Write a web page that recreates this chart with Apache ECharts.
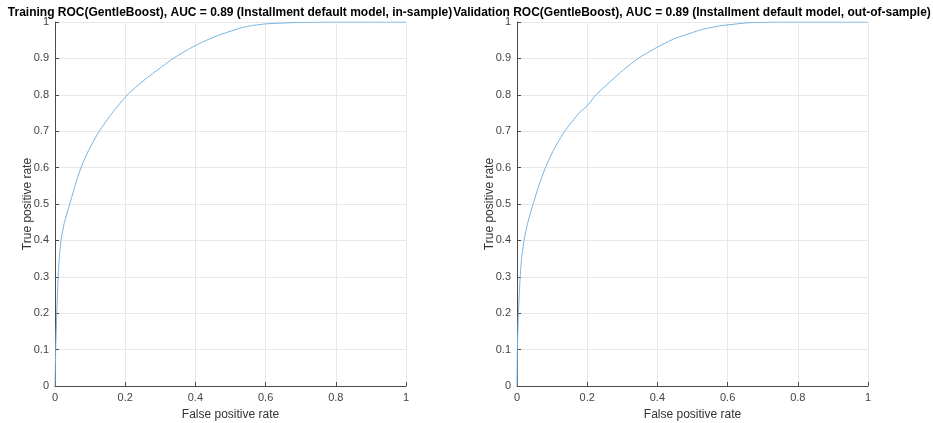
<!DOCTYPE html>
<html>
<head>
    <meta charset="utf-8">
    <title>ROC GentleBoost</title>
    <script src="https://cdn.jsdelivr.net/npm/echarts@6/dist/echarts.min.js"></script>
    <style>
        html, body { margin: 0; padding: 0; background: #fff; }
    </style>
</head>
<body>
<div id="main" style="width: 933px;height:423px;"></div>
<script type="text/javascript">
    // ROC points
    const fprTrain = [0, 0.001, 0.002, 0.005, 0.009, 0.012, 0.017, 0.027, 0.042, 0.057, 0.074, 0.097, 0.126, 0.163, 0.206, 0.255, 0.3, 0.337, 0.38, 0.42, 0.47, 0.527, 0.56, 0.603, 0.7, 0.8, 1];
    const tprTrain = [0, 0.05, 0.1, 0.2, 0.3, 0.35, 0.4, 0.45, 0.5, 0.55, 0.6, 0.65, 0.7, 0.75, 0.8, 0.841, 0.874, 0.9, 0.925, 0.945, 0.965, 0.983, 0.99, 0.995, 0.999, 1, 1];

    const fprVal = [0, 0.0005, 0.001, 0.004, 0.009, 0.013, 0.02, 0.031, 0.046, 0.062, 0.081, 0.105, 0.136, 0.176, 0.202, 0.225, 0.271, 0.3, 0.345, 0.398, 0.45, 0.5, 0.521, 0.575, 0.66, 0.75, 1];
    const tprVal = [0, 0.05, 0.1, 0.2, 0.3, 0.35, 0.4, 0.45, 0.5, 0.55, 0.6, 0.65, 0.7, 0.749, 0.772, 0.8, 0.841, 0.866, 0.9, 0.93, 0.955, 0.971, 0.978, 0.989, 0.998, 1, 1];

    const titles = [
        'Training ROC(GentleBoost), AUC = 0.89 (Installment default model, in-sample)',
        'Validation ROC(GentleBoost), AUC = 0.89 (Installment default model, out-of-sample)'
    ];
    const xLabel = 'False positive rate';
    const yLabel = 'True positive rate';

    const font = '"Liberation Sans", Arial, sans-serif';
    const axisCol = '#4a4a4a';
    const lineCol = '#74b3e2';

    function pairs(xs, ys) {
        return xs.map((x, i) => [x, ys[i]]);
    }

    function xAxis(idx) {
        return {
            type: 'value', gridIndex: idx, min: 0, max: 1, interval: 0.2,
            name: xLabel, nameLocation: 'middle', nameGap: 23,
            nameTextStyle: {fontFamily: font, fontSize: 12, color: '#333'},
            axisLine: {show: true, onZero: false, lineStyle: {color: axisCol, width: 1}},
            axisTick: {show: true, inside: true, length: 4, lineStyle: {color: axisCol}},
            axisLabel: {fontFamily: font, fontSize: 11, color: '#444', margin: 6,
                formatter: v => String(+v.toFixed(1))},
            splitLine: {show: true, lineStyle: {color: '#e8e8e8', width: 1}}
        };
    }

    function yAxis(idx) {
        return {
            type: 'value', gridIndex: idx, min: 0, max: 1, interval: 0.1,
            name: yLabel, nameLocation: 'middle', nameGap: 21, nameMoveOverlap: false,
            nameTextStyle: {fontFamily: font, fontSize: 12, color: '#333'},
            axisLine: {show: true, onZero: false, lineStyle: {color: axisCol, width: 1}},
            axisTick: {show: true, inside: true, length: 4, lineStyle: {color: axisCol}},
            axisLabel: {fontFamily: font, fontSize: 11, color: '#444', margin: 6,
                formatter: v => String(+v.toFixed(1))},
            splitLine: {show: true, lineStyle: {color: '#e8e8e8', width: 1}}
        };
    }

    const myChart = echarts.init(document.getElementById('main'));
    const option = {
        animation: false,
        backgroundColor: '#fff',
        graphic: [
            {type: 'text', x: 230, y: 7, style: {text: titles[0], fontFamily: font, fontSize: 12, fontWeight: 'bold', fill: '#000', align: 'center'}},
            {type: 'text', x: 692, y: 7, style: {text: titles[1], fontFamily: font, fontSize: 12, fontWeight: 'bold', fill: '#000', align: 'center'}}
        ],
        grid: [
            {left: 55, top: 22, width: 351, height: 364, containLabel: false, outerBoundsMode: 'none'},
            {left: 517, top: 22, width: 351, height: 364, containLabel: false, outerBoundsMode: 'none'}
        ],
        xAxis: [xAxis(0), xAxis(1)],
        yAxis: [yAxis(0), yAxis(1)],
        series: [
            {type: 'line', xAxisIndex: 0, yAxisIndex: 0, data: pairs(fprTrain, tprTrain), showSymbol: false,
                smooth: 0.15, lineStyle: {color: lineCol, width: 1}},
            {type: 'line', xAxisIndex: 1, yAxisIndex: 1, data: pairs(fprVal, tprVal), showSymbol: false,
                smooth: 0.15, lineStyle: {color: lineCol, width: 1}}
        ]
    };
    myChart.setOption(option);
</script>
</body>
</html>
